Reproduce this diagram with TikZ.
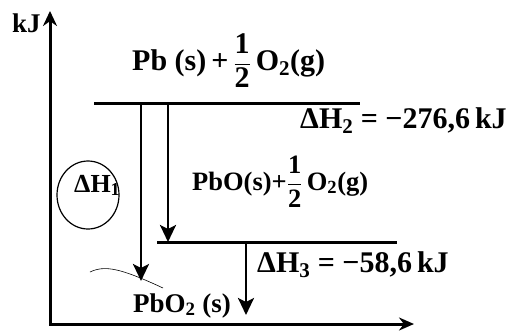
\documentclass[tikz,border=0pt]{standalone}
\usepackage{fontspec}
\setmainfont{Liberation Serif}
\usetikzlibrary{arrows.meta}
\newcommand\myhalf{$\displaystyle\frac{\mbox{1}}{\mbox{2}}$}
\begin{document}
\begin{tikzpicture}[x=1pt,y=-1pt,
  axis/.style={line width=3pt,line join=miter,{Stealth[length=15pt,width=14pt]}-{Stealth[length=15pt,width=13pt]}},
  level/.style={line width=3pt},
  dharrow/.style={line width=2.8pt,-{Stealth[length=17pt,width=16pt,inset=4pt]}},
  big/.style={font=\bfseries\fontsize{30}{34}\selectfont, inner sep=0pt},
  mid/.style={font=\bfseries\fontsize{26.5}{30}\selectfont, inner sep=0pt},
  pen/.style={line width=1.2pt}]
\useasboundingbox (0,0) rectangle (509,330);
% axes
\coordinate (ytop) at (50,11);
\coordinate (O) at (50,324);
\coordinate (xend) at (414,324);
\draw[axis] (ytop) -- (O) -- (xend);
\node[inner sep=0pt, font=\bfseries\fontsize{27}{30}\selectfont, anchor=base west] (kJ) at (12,32) {kJ};
% levels
\coordinate (t1) at (94,103);
\coordinate (t2) at (360,103);
\coordinate (m1) at (157,242);
\coordinate (m2) at (397,242);
\draw[level] (t1) -- (t2);
\draw[level] (m1) -- (m2);
% arrows
\coordinate (a1s) at (141,103);
\coordinate (a1e) at (141,281);
\coordinate (a2s) at (168,103);
\coordinate (a2e) at (168,242);
\coordinate (a3s) at (246,242);
\coordinate (a3e) at (246,315);
\draw[dharrow] (a1s) -- (a1e);
\draw[dharrow] (a2s) -- (a2e);
\draw[dharrow] (a3s) -- (a3e);
% labels
\node[big, anchor=base west] (top) at (132,70) {Pb (s)\,+\,\myhalf\,O\textsubscript{2}(g)};
\node[big, anchor=base west] (dh2) at (300,128) {ΔH\textsubscript{2} = −276,6\,kJ};
\node[mid, anchor=base west] (midl) at (192,190) {PbO(s)+\myhalf\,O\textsubscript{2}(g)};
\node[big, anchor=base west] (dh3) at (257,272) {ΔH\textsubscript{3} = −58,6\,kJ};
\node[big, font=\bfseries\fontsize{27}{30}\selectfont, anchor=base west] (bot) at (133,312) {PbO\textsubscript{2} (s)};
\node[inner sep=0pt, font=\bfseries\fontsize{26}{28}\selectfont, anchor=base west] (dh1) at (74,192) {ΔH\textsubscript{1}};
% pen marks
\draw[pen] (88,195) ellipse [x radius=31pt, y radius=34pt];
\draw[line width=0.6pt] (90,272) .. controls (105,265) and (120,268) .. (163,288);
\end{tikzpicture}
\end{document}
